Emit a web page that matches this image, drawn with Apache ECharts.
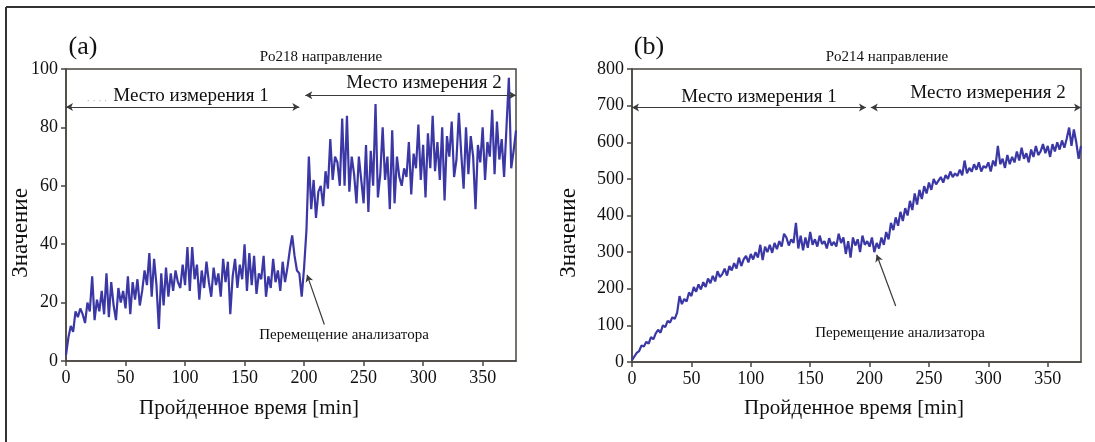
<!DOCTYPE html>
<html>
<head>
<meta charset="utf-8">
<script src="https://cdn.jsdelivr.net/npm/echarts@6/dist/echarts.min.js"></script>
<style>
  html, body { margin: 0; padding: 0; background: #fff; }
  #chart { width: 1095px; height: 442px; }
</style>
</head>
<body>
<div id="chart"></div>
<script>
// time step between readings, min
var stepMin = 2;
var xTicks = [0, 50, 100, 150, 200, 250, 300, 350];

// (a) Po218
var po218 = [
  2, 8, 12, 10, 17, 15, 18, 16, 13, 20, 17, 29, 14, 21, 17, 24, 16, 30, 15, 27,
  19, 14, 25, 20, 24, 18, 29, 16, 27, 21, 28, 19, 24, 31, 26, 37, 22, 35, 26, 11,
  30, 19, 32, 22, 30, 24, 31, 27, 25, 33, 26, 39, 24, 39, 28, 33, 21, 31, 25, 34,
  27, 22, 32, 26, 30, 22, 35, 27, 34, 16, 29, 35, 25, 33, 28, 40, 24, 37, 26, 36,
  23, 30, 28, 36, 22, 29, 25, 35, 27, 31, 24, 34, 27, 32, 38, 43, 36, 31, 30, 22,
  32, 45, 70, 52, 62, 49, 58, 60, 53, 65, 59, 76, 62, 70, 68, 60, 83, 60, 84, 58,
  70, 64, 54, 70, 62, 54, 74, 51, 72, 60, 88, 56, 64, 80, 62, 70, 52, 79, 54, 70,
  63, 60, 66, 63, 75, 57, 71, 66, 81, 62, 74, 56, 78, 66, 84, 65, 75, 62, 80, 55,
  77, 70, 82, 63, 69, 85, 71, 59, 80, 64, 77, 70, 52, 74, 68, 80, 62, 75, 70, 86,
  64, 82, 69, 76, 63, 80, 97, 66, 72, 79
];

// (b) Po214
var po214 = [
  5, 15, 25, 30, 45, 42, 55, 50, 68, 62, 78, 88, 80, 100, 95, 112, 108, 122, 118, 135,
  180, 158, 172, 165, 190, 180, 205, 192, 212, 198, 218, 205, 228, 215, 235, 220, 248, 232, 240, 255,
  236, 262, 250, 270, 255, 285, 262, 280, 290, 272, 295, 280, 300, 285, 320, 278, 315, 300, 320, 298,
  325, 308, 330, 315, 350, 340, 318, 335, 325, 380, 310, 345, 305, 340, 312, 355, 320, 335, 315, 345,
  322, 330, 310, 338, 318, 328, 315, 350, 325, 340, 295, 330, 285, 340, 318, 335, 300, 345, 320, 330,
  315, 340, 300, 325, 310, 340, 320, 355, 335, 380, 360, 395, 372, 410, 385, 420, 400, 440, 415, 460,
  430, 470, 445, 480, 460, 490, 470, 500, 485, 495, 505, 490, 510, 500, 520, 505, 515, 508, 525, 510,
  550, 515, 530, 520, 540, 525, 545, 520, 535, 530, 545, 520, 550, 535, 590, 540, 555, 530, 565, 540,
  560, 545, 575, 550, 585, 555, 570, 545, 580, 560, 590, 565, 575, 595, 570, 590, 560, 595, 575, 600,
  580, 605, 585, 610, 640, 590, 635, 600, 555, 590
];

function toPairs(arr) {
  return arr.map(function (v, i) { return [i * stepMin, v]; });
}

var serif = "'Liberation Serif', 'DejaVu Serif', serif";
var axisCol = '#4a4540';
var lineCol = '#3b38a6';
var textCol = '#111';

function xAx(gi) {
  return {
    gridIndex: gi, type: 'value', min: 0, max: 378, interval: 50,
    axisLine: { show: true, lineStyle: { color: axisCol, width: 1.5 } },
    axisTick: { show: true, length: 5, lineStyle: { color: axisCol, width: 1.5 } },
    axisLabel: { fontFamily: serif, fontSize: 18, color: textCol, margin: 8, showMaxLabel: false },
    splitLine: { show: false }
  };
}
function yAx(gi, max, step) {
  return {
    gridIndex: gi, type: 'value', min: 0, max: max, interval: step,
    axisLine: { show: true, lineStyle: { color: axisCol, width: 1.5 } },
    axisTick: { show: true, length: 5, lineStyle: { color: axisCol, width: 1.5 } },
    axisLabel: { fontFamily: serif, fontSize: 18, color: textCol, margin: 8 },
    splitLine: { show: false }
  };
}

function arrowLine(y, x1, x2) {
  return [{ coord: [x1, y] }, { coord: [x2, y] }];
}

var txt = function (x, y, s, size, extra) {
  var st = { text: s, x: x, y: y, font: (size) + 'px ' + serif, fill: textCol, align: 'center', verticalAlign: 'middle' };
  for (var k in extra) st[k] = extra[k];
  return { type: 'text', style: st };
};

var myChart = echarts.init(document.getElementById('chart'));
var option = {
  animation: false,
  backgroundColor: '#fff',
  grid: [
    { left: 66, top: 69, width: 450, height: 292, show: true, borderColor: axisCol, borderWidth: 1.5 },
    { left: 632, top: 69, width: 449, height: 293, show: true, borderColor: axisCol, borderWidth: 1.5 }
  ],
  xAxis: [xAx(0), xAx(1)],
  yAxis: [yAx(0, 100, 20), yAx(1, 800, 100)],
  series: [
    {
      type: 'line', xAxisIndex: 0, yAxisIndex: 0, data: toPairs(po218),
      showSymbol: false, lineStyle: { color: lineCol, width: 2.2 },
      markLine: {
        silent: true, symbol: ['arrow', 'arrow'], symbolSize: [6, 7],
        label: { show: false },
        lineStyle: { color: '#3a3a3a', width: 1.2, type: 'solid' },
        data: [
          arrowLine(87, 0, 196),
          arrowLine(91, 201, 378),
          [{ coord: [202.5, 29.5], symbol: 'arrow' }, { coord: [217, 12.5], symbol: 'none' }]
        ]
      }
    },
    {
      type: 'line', xAxisIndex: 1, yAxisIndex: 1, data: toPairs(po214),
      showSymbol: false, lineStyle: { color: lineCol, width: 2.2 },
      markLine: {
        silent: true, symbol: ['arrow', 'arrow'], symbolSize: [6, 7],
        label: { show: false },
        lineStyle: { color: '#3a3a3a', width: 1.2, type: 'solid' },
        data: [
          arrowLine(695, 0, 197),
          arrowLine(695, 201, 378),
          [{ coord: [206, 293], symbol: 'arrow' }, { coord: [222, 153], symbol: 'none' }]
        ]
      }
    }
  ],
  graphic: [
    // frame
    { type: 'line', shape: { x1: 6, y1: 7, x2: 1095, y2: 7 }, style: { stroke: '#333', lineWidth: 2 } },
    { type: 'line', shape: { x1: 6, y1: 7, x2: 6, y2: 442 }, style: { stroke: '#333', lineWidth: 2 } },
    // panel letters and headers
    txt(83, 47, '(a)', 26),
    txt(649, 47, '(b)', 26),
    txt(321, 57, 'Po218 направление', 15),
    txt(887, 57, 'Po214 направление', 15),
    // site labels
    txt(97, 101, '· · · ·', 10, { fill: '#aaa' }),
    txt(191, 96, 'Место измерения 1', 19),
    txt(424, 83, 'Место измерения 2', 19),
    txt(759, 97, 'Место измерения 1', 19),
    txt(988, 93, 'Место измерения 2', 19),
    // analyzer move
    txt(344, 335, 'Перемещение анализатора', 15),
    txt(900, 333, 'Перемещение анализатора', 15),
    // axis titles
    txt(249, 408, 'Пройденное время [min]', 21),
    txt(854, 408, 'Пройденное время [min]', 21),
    { type: 'text', x: 21, y: 233, rotation: Math.PI / 2,
      style: { text: 'Значение', font: '23px ' + serif, fill: textCol, align: 'center', verticalAlign: 'middle' } },
    { type: 'text', x: 569, y: 233, rotation: Math.PI / 2,
      style: { text: 'Значение', font: '23px ' + serif, fill: textCol, align: 'center', verticalAlign: 'middle' } }
  ]
};
myChart.setOption(option);
</script>
</body>
</html>
